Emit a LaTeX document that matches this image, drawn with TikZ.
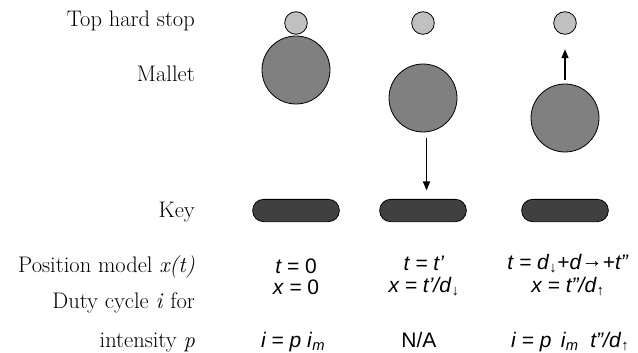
\documentclass[tikz,border=0pt]{standalone}
\usepackage{fontspec}
\newfontfamily\modelfont{Liberation Sans}
\usepackage{tikz}
\usetikzlibrary{arrows.meta}
\definecolor{stopGray}{HTML}{C0C0C0}
\definecolor{malletGray}{HTML}{808080}
\definecolor{keyGray}{HTML}{404040}

\begin{document}
\begin{tikzpicture}[x=1pt, y=-1pt,
  hardstop/.style={circle, draw=black, line width=0.8pt, fill=stopGray, minimum size=22.6pt, inner sep=0},
  mallet/.style={circle, draw=black, line width=0.8pt, fill=malletGray, minimum size=68pt, inner sep=0},
  keybar/.style={rectangle, rounded corners=11pt, draw=black, line width=0.8pt, fill=keyGray, minimum width=86.7pt, minimum height=22.3pt, inner sep=0},
  rowname/.style={anchor=base east, inner sep=0, font=\fontsize{22.5}{27}\selectfont},
  model/.style={anchor=base, inner sep=0, font=\modelfont\fontsize{21}{25}\selectfont},
  motion/.style={-{Triangle[length=9pt, width=7pt]}, line width=1.4pt}]
  \useasboundingbox (0,0) rectangle (638,353);

  % row names
  \node[rowname] (nstop) at (195,27) {Top hard stop};
  \node[rowname] (nmallet) at (195,82) {Mallet};
  \node[rowname] (nkey) at (195,217) {Key};
  \node[rowname] (npos) at (195,272) {Position model \textit{x(t)}};
  \node[rowname] (nduty) at (195,308) {Duty cycle \textit{i} for};
  \node[rowname] (nint) at (195,347) {intensity \textit{p}};

  % mallet at rest
  \node[hardstop] (stop1) at (296,23) {};
  \node[mallet] (mallet1) at (296,70) {};
  \node[keybar] (key1) at (296,210.5) {};

  % mallet falling
  \node[hardstop] (stop2) at (423,23) {};
  \node[mallet] (mallet2) at (423,98) {};
  \node[keybar] (key2) at (423,210.5) {};
  \draw[motion, shorten <=6pt, shorten >=8.5pt] ([xshift=3.5pt]mallet2.south) -- ([xshift=3.5pt]key2.north);

  % mallet rising
  \node[hardstop] (stop3) at (565,23) {};
  \node[mallet] (mallet3) at (565,118) {};
  \node[keybar] (key3) at (565,210.5) {};
  \draw[motion, shorten <=4pt, shorten >=14.5pt] (mallet3) -- (stop3);

  % models
  \node[model] (pos1) at (296,273) {\textit{t =} 0};
  \node[model] (xpos1) at (296,294) {\textit{x =} 0};
  \node[model] (duty1) at (293,347) {\textit{i = p i}\textsubscript{\textit{m}}};

  \node[model] (pos2) at (424,270) {\textit{t = t’}};
  \node[model] (xpos2) at (424,292) {\textit{x = t’/d}\textsubscript{↓}};
  \node[model] (duty2) at (419,347) {N/A};

  \node[model] (pos3) at (568,269) {\textit{t = d}\textsubscript{↓}\textit{+d}\raisebox{2pt}{→}\textit{+t”}};
  \node[model] (xpos3) at (568,292) {\textit{x = t”/d}\textsubscript{↑}};
  \node[model, anchor=base west] (duty3) at (511,347) {\textit{i =\ p\ \,i}\textsubscript{\textit{m}}\ \ \textit{t”/d}\textsubscript{↑}};
\end{tikzpicture}
\end{document}
